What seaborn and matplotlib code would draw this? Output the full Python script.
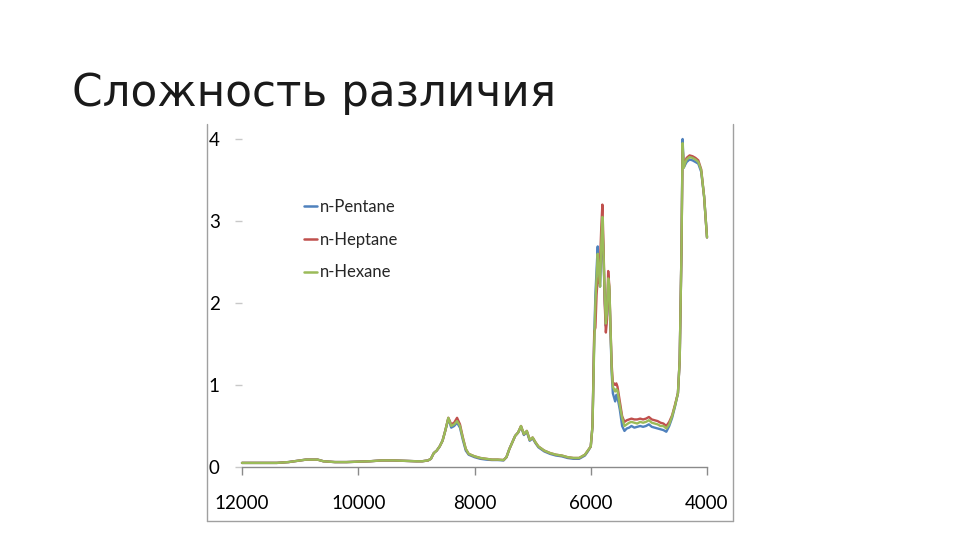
import numpy as np
import pandas as pd
import matplotlib
matplotlib.use("Agg")
import matplotlib.pyplot as plt
from matplotlib.lines import Line2D
import seaborn as sns

# ---- data ----
wavenumber = [12000, 11800, 11600, 11400, 11200, 11000, 10900, 10700, 10600, 10400,
              10200, 10000, 9800, 9600, 9400, 9200, 9000, 8900, 8800, 8750,
              8700, 8650, 8600, 8550, 8500, 8450, 8400, 8350, 8300, 8250,
              8200, 8150, 8100, 8000, 7900, 7800, 7700, 7600, 7500, 7450,
              7400, 7350, 7300, 7250, 7200, 7150, 7100, 7050, 7000, 6950,
              6900, 6800, 6700, 6600, 6500, 6400, 6300, 6200, 6100, 6050,
              6000, 5970, 5940, 5920, 5900, 5880, 5860, 5840, 5820, 5800,
              5780, 5760, 5740, 5720, 5700, 5680, 5660, 5640, 5620, 5600,
              5580, 5560, 5540, 5500, 5460, 5420, 5380, 5340, 5300, 5250,
              5200, 5150, 5100, 5050, 5000, 4950, 4900, 4850, 4800, 4750,
              4700, 4650, 4600, 4550, 4500, 4470, 4440, 4420, 4400, 4380,
              4350, 4300, 4250, 4200, 4150, 4100, 4050, 4000]

hexane = [0.05, 0.05, 0.05, 0.05, 0.06, 0.08, 0.09, 0.09, 0.07, 0.06,
          0.06, 0.065, 0.07, 0.08, 0.08, 0.075, 0.07, 0.07, 0.08, 0.10,
          0.17, 0.20, 0.25, 0.32, 0.45, 0.60, 0.50, 0.52, 0.56, 0.50,
          0.35, 0.22, 0.16, 0.13, 0.11, 0.10, 0.09, 0.09, 0.085, 0.12,
          0.22, 0.30, 0.38, 0.42, 0.50, 0.40, 0.44, 0.33, 0.36, 0.30,
          0.25, 0.20, 0.17, 0.15, 0.14, 0.12, 0.11, 0.11, 0.15, 0.20,
          0.25, 0.50, 1.50, 2.00, 2.30, 2.60, 2.40, 2.20, 2.70, 3.05,
          2.60, 2.10, 1.75, 1.90, 2.30, 2.20, 1.70, 1.20, 0.98, 0.95,
          0.92, 0.95, 0.93, 0.75, 0.60, 0.50, 0.52, 0.54, 0.55, 0.54,
          0.53, 0.55, 0.54, 0.55, 0.57, 0.54, 0.53, 0.52, 0.50, 0.50,
          0.47, 0.52, 0.62, 0.75, 0.90, 1.30, 2.60, 3.95, 3.65, 3.70,
          3.75, 3.78, 3.77, 3.75, 3.72, 3.62, 3.30, 2.80]

pentane = [0.05, 0.05, 0.05, 0.05, 0.06, 0.08, 0.09, 0.09, 0.07, 0.06,
           0.06, 0.065, 0.07, 0.08, 0.08, 0.075, 0.07, 0.07, 0.08, 0.10,
           0.17, 0.20, 0.25, 0.32, 0.45, 0.59, 0.48, 0.50, 0.54, 0.48,
           0.33, 0.20, 0.15, 0.12, 0.10, 0.09, 0.085, 0.085, 0.08, 0.12,
           0.22, 0.30, 0.38, 0.42, 0.49, 0.39, 0.43, 0.32, 0.35, 0.29,
           0.24, 0.19, 0.16, 0.14, 0.13, 0.11, 0.10, 0.10, 0.14, 0.19,
           0.25, 0.50, 1.60, 2.10, 2.40, 2.69, 2.30, 2.20, 2.60, 2.95,
           2.55, 2.05, 1.72, 1.85, 2.25, 2.15, 1.65, 1.15, 0.90, 0.85,
           0.80, 0.88, 0.85, 0.70, 0.50, 0.44, 0.47, 0.48, 0.50, 0.48,
           0.49, 0.50, 0.49, 0.50, 0.52, 0.49, 0.48, 0.47, 0.46, 0.45,
           0.43, 0.50, 0.60, 0.74, 0.90, 1.30, 2.60, 4.00, 3.65, 3.68,
           3.72, 3.75, 3.74, 3.72, 3.70, 3.60, 3.30, 2.80]

heptane = [0.05, 0.05, 0.05, 0.05, 0.06, 0.08, 0.09, 0.09, 0.07, 0.06,
           0.06, 0.065, 0.07, 0.08, 0.08, 0.075, 0.07, 0.07, 0.08, 0.10,
           0.17, 0.20, 0.25, 0.32, 0.45, 0.60, 0.52, 0.54, 0.60, 0.52,
           0.36, 0.22, 0.16, 0.13, 0.11, 0.10, 0.09, 0.09, 0.085, 0.12,
           0.22, 0.30, 0.38, 0.42, 0.50, 0.40, 0.44, 0.33, 0.36, 0.30,
           0.25, 0.20, 0.17, 0.15, 0.14, 0.12, 0.11, 0.11, 0.15, 0.20,
           0.25, 0.50, 1.65, 1.70, 2.10, 2.30, 2.25, 2.50, 2.90, 3.20,
           2.70, 2.00, 1.64, 1.80, 2.39, 2.20, 1.70, 1.25, 1.02, 1.02,
           1.00, 1.02, 0.98, 0.80, 0.62, 0.55, 0.57, 0.58, 0.59, 0.58,
           0.58, 0.59, 0.58, 0.59, 0.61, 0.58, 0.57, 0.56, 0.54, 0.53,
           0.50, 0.55, 0.63, 0.76, 0.90, 1.30, 2.60, 3.90, 3.66, 3.72,
           3.77, 3.80, 3.79, 3.77, 3.74, 3.63, 3.30, 2.80]

series_names = ["n-Pentane", "n-Heptane", "n-Hexane"]
series_colors = ["#4F81BD", "#C0504D", "#9BBB59"]
x_ticks = [12000, 10000, 8000, 6000, 4000]
y_ticks = [0, 1, 2, 3, 4]
title = "Сложность различия"

# ---- build long-form table ----
frames = []
for name, vals in zip(series_names, [pentane, heptane, hexane]):
    frames.append(pd.DataFrame({"wn": wavenumber, "abs": vals, "series": name}))
df = pd.concat(frames, ignore_index=True)

sns.set_style("white")
plt.rcParams["font.family"] = ["Lato", "DejaVu Sans"]

fig = plt.figure(figsize=(9.6, 5.4), dpi=100)
fig.patch.set_facecolor("white")

ax = fig.add_axes([242 / 960, 1 - 467 / 540, (707 - 242) / 960, (467 - 139) / 540])
sns.lineplot(data=df, x="wn", y="abs", hue="series", hue_order=series_names,
             palette=dict(zip(series_names, series_colors)), sort=False,
             linewidth=1.7, ax=ax, legend=False, clip_on=False)

ax.set_xlim(12000, 4000)
ax.set_ylim(0, 4)
ax.set_xticks(x_ticks)
ax.set_xticklabels([str(t) for t in x_ticks])
ax.set_yticks(y_ticks)
ax.set_yticklabels([str(t) for t in y_ticks])
ax.set_xlabel("")
ax.set_ylabel("")
for s in ["top", "right", "left"]:
    ax.spines[s].set_visible(False)
ax.spines["bottom"].set_color("#8a8a8a")
ax.spines["bottom"].set_linewidth(1.0)
ax.tick_params(axis="x", direction="out", length=6, width=1, color="#8a8a8a",
               pad=14, labelsize=13.5, labelcolor="black", bottom=True)
ax.tick_params(axis="y", direction="out", length=5, width=1, color="#c8c8c8",
               pad=11, labelsize=13.5, labelcolor="black", left=True)
ax.set_facecolor("none")
ax.grid(False)

# legend
handles = [Line2D([0], [0], color=c, lw=1.8) for c in series_colors]
fig.legend(handles, series_names, loc="upper left",
           bbox_to_anchor=(304 / 960, 1 - 199 / 540), frameon=False,
           fontsize=12, handlelength=0.75, handletextpad=0.2, labelspacing=1.0,
           borderaxespad=0, borderpad=0)

# picture frame (left, bottom, right edges)
fx0, fx1 = 207 / 960, 733 / 960
fy0, fy1 = 1 - 521 / 540, 1 - 124 / 540
frame_kw = dict(color="#a0a0a0", lw=1.0, transform=fig.transFigure)
fig.add_artist(Line2D([fx0, fx0], [fy1, fy0], **frame_kw))
fig.add_artist(Line2D([fx0, fx1], [fy0, fy0], **frame_kw))
fig.add_artist(Line2D([fx1, fx1], [fy0, fy1], **frame_kw))

# title
fig.text(72 / 960, 1 - 106 / 540, title, fontsize=31.5, family=["DejaVu Sans"],
         color="#1a1a1a", ha="left", va="baseline")

fig.savefig("out.png", dpi=100, facecolor="white")
